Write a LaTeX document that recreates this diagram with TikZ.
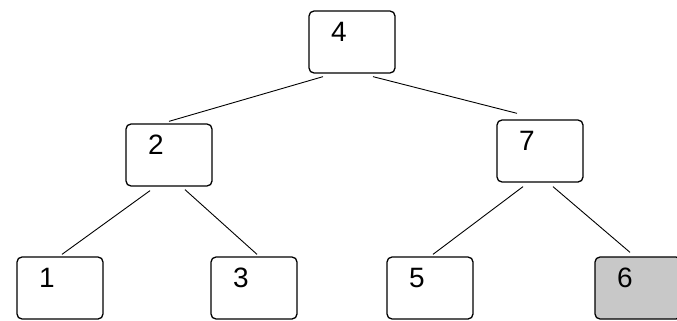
\documentclass[tikz,border=0pt]{standalone}
\usepackage{fontspec}
\setmainfont{Liberation Sans}
\usetikzlibrary{positioning}
\usetikzlibrary{calc}
\definecolor{leafgray}{RGB}{200,200,200}

\begin{document}
\begin{tikzpicture}[x=1pt, y=-1pt,
    every node/.style={draw=black, rounded corners=5pt, line width=1.3pt, minimum width=86pt, minimum height=62pt, inner sep=0pt},
    keylabel/.style={draw=none, fill=none, rounded corners=0pt, minimum width=0pt, minimum height=0pt, anchor=north west, xshift=22pt, yshift=-11pt, font=\fontsize{28}{28}\selectfont}]

        % Frame of the picture
        \useasboundingbox (0, 0) rectangle (677, 321);

        % Root
        \node (b4) at (352, 42) [label={[keylabel]north west:4}] {};

        % Second level
        \node (b2) at (169, 155) [label={[keylabel]north west:2}] {};
        \node (b7) at (540, 151) [label={[keylabel]north west:7}] {};

        % Leaves
        \node (b1) at (60, 288) [label={[keylabel]north west:1}] {};
        \node (b3) at (254, 288) [label={[keylabel]north west:3}] {};
        \node (b5) at (430, 288) [label={[keylabel]north west:5}] {};
        \node (b6) at (638, 288) [fill=leafgray, label={[keylabel]north west:6}] {};

        % Edges
        \draw[line width=0.9pt] ([xshift=-29pt, yshift=-3pt]b4.south) -- ([yshift=2pt]b2.north);
        \draw[line width=0.9pt] ([xshift=21pt, yshift=-3pt]b4.south) -- ([xshift=-23pt, yshift=6pt]b7.north);

        \draw[line width=0.9pt] ([xshift=-19pt, yshift=-4pt]b2.south) -- ([xshift=2pt, yshift=2pt]b1.north);
        \draw[line width=0.9pt] ([xshift=16pt, yshift=-3pt]b2.south) -- ([xshift=3pt, yshift=2pt]b3.north);

        \draw[line width=0.9pt] ([xshift=-17pt, yshift=-4pt]b7.south) -- ([xshift=3pt, yshift=2pt]b5.north);
        \draw[line width=0.9pt] ([xshift=13pt, yshift=-4pt]b7.south) -- ([xshift=-8pt, yshift=4pt]b6.north);

\end{tikzpicture}
\end{document}
